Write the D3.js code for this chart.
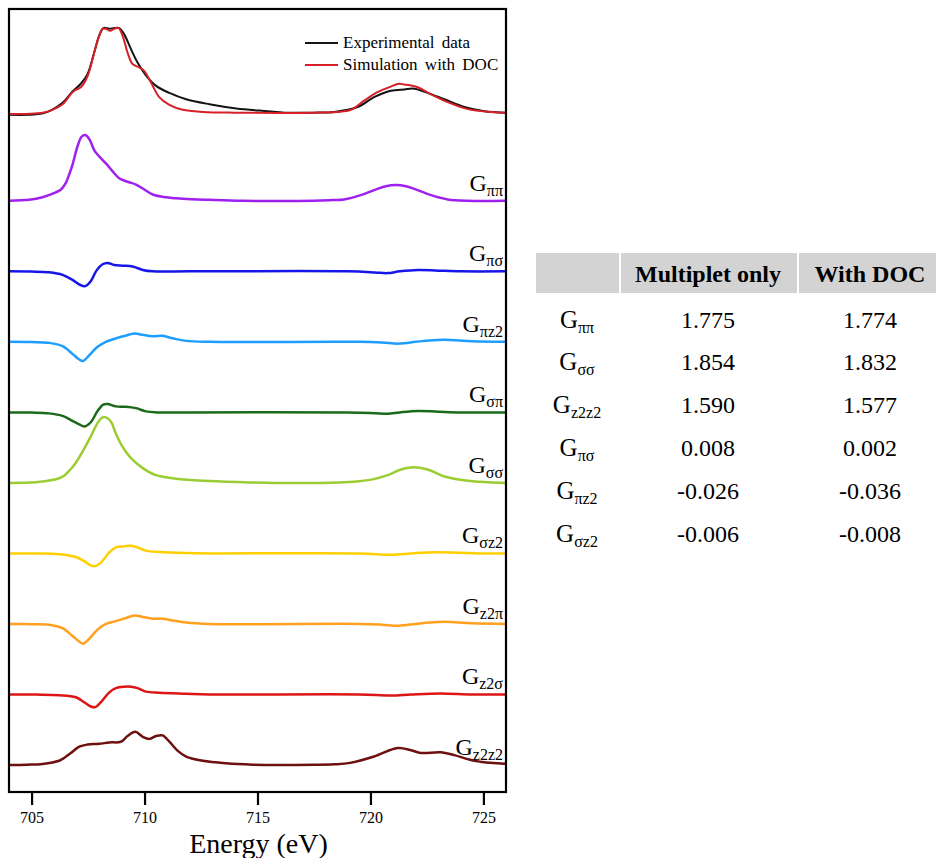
<!DOCTYPE html>
<html>
<head>
<meta charset="utf-8">
<script src="https://cdn.jsdelivr.net/npm/d3@7"></script>
<style>
  html, body { margin: 0; padding: 0; background: #fff; }
  svg { display: block; font-family: "Liberation Serif", "Times New Roman", serif; }
</style>
</head>
<body>
<svg id="chart" width="936" height="858" font-family="Liberation Serif, Times New Roman, serif"></svg>
<script>
// ---- Spectra: [energy (eV), intensity above the curve's own baseline] ----
const experimental = [[704.0,-0.03],[704.9,-0.03],[705.5,-0.01],[705.9,0.04],[706.37,0.14],[706.81,0.30],[707.18,0.41],[707.48,0.55],[707.77,0.85],[707.99,1.09],[708.18,1.20],[708.44,1.19],[708.66,1.20],[708.88,1.20],[709.10,1.11],[709.4,0.90],[709.69,0.71],[710.06,0.53],[710.51,0.38],[711.1,0.28],[711.84,0.19],[712.87,0.12],[714.06,0.06],[715.46,0.02],[716.2,0.0],[717.5,0.0],[718.4,0.01],[719.43,0.08],[720.16,0.22],[720.9,0.31],[721.5,0.33],[721.94,0.34],[722.53,0.28],[723.27,0.19],[724.16,0.08],[725.04,0.02],[726.0,0.0]];
const simulation = [[704.0,-0.02],[705.5,0.0],[705.92,0.04],[706.37,0.12],[706.81,0.29],[707.0,0.33],[707.18,0.36],[707.48,0.52],[707.77,0.85],[707.99,1.09],[708.14,1.19],[708.29,1.19],[708.48,1.16],[708.66,1.19],[708.85,1.20],[709.03,1.09],[709.25,0.85],[709.47,0.69],[709.77,0.64],[709.99,0.59],[710.28,0.43],[710.65,0.22],[711.1,0.11],[711.69,0.04],[712.58,0.01],[714.0,0.0],[717.5,0.0],[718.5,0.01],[719.13,0.04],[719.72,0.17],[720.31,0.29],[720.9,0.37],[721.26,0.41],[721.49,0.40],[722.09,0.36],[722.68,0.26],[723.42,0.15],[724.31,0.05],[725.34,0.01],[726.0,0.0]];
const gPiPi = [[704.0,0.0],[704.89,0.014],[705.48,0.05],[706.07,0.12],[706.29,0.156],[706.51,0.25],[706.66,0.37],[706.81,0.51],[707.03,0.77],[707.22,0.91],[707.40,0.93],[707.58,0.86],[707.77,0.72],[707.99,0.63],[708.29,0.53],[708.58,0.42],[708.88,0.32],[709.25,0.27],[709.62,0.23],[709.99,0.16],[710.36,0.09],[710.95,0.05],[711.69,0.03],[712.87,0.014],[714.35,0.0],[717.5,0.0],[718.3,0.01],[718.83,0.02],[719.57,0.08],[720.31,0.17],[720.9,0.22],[721.35,0.22],[721.94,0.17],[722.68,0.08],[723.42,0.02],[724.31,0.0],[726.0,0.0]];
const gPiSigma = [[704.0,0.0],[705.0,-0.003],[705.77,-0.014],[706.37,-0.05],[706.81,-0.12],[707.14,-0.19],[707.37,-0.21],[707.62,-0.14],[707.87,0.01],[708.14,0.10],[708.36,0.12],[708.66,0.09],[709.03,0.08],[709.47,0.07],[709.92,0.02],[710.36,0.0],[712.0,0.0],[719.0,0.0],[720.2,-0.015],[720.76,-0.025],[721.3,0.0],[722.09,0.02],[723.0,0.01],[724.0,0.0],[726.0,0.0]];
const gPiZ2 = [[704.0,0.0],[705.0,-0.003],[705.77,-0.014],[706.37,-0.06],[706.81,-0.17],[707.11,-0.25],[707.28,-0.27],[707.55,-0.19],[707.92,-0.07],[708.29,0.0],[708.73,0.05],[709.18,0.09],[709.55,0.12],[709.92,0.10],[710.36,0.08],[710.80,0.085],[711.25,0.05],[711.84,0.014],[712.87,0.0],[719.5,0.0],[720.5,-0.01],[721.27,-0.025],[722.0,0.0],[722.6,0.02],[723.27,0.03],[724.5,0.01],[726.0,0.0]];
const gSigmaPi = [[704.0,0.0],[705.0,-0.003],[705.77,-0.014],[706.37,-0.05],[706.81,-0.12],[707.11,-0.17],[707.34,-0.20],[707.62,-0.14],[707.92,0.02],[708.17,0.11],[708.36,0.12],[708.73,0.085],[709.18,0.08],[709.62,0.06],[710.06,0.014],[710.51,0.0],[712.0,0.0],[719.0,0.0],[720.2,-0.012],[720.76,-0.02],[721.3,0.0],[722.09,0.02],[723.0,0.01],[724.0,0.0],[726.0,0.0]];
const gSigmaSigma = [[704.0,0.0],[705.18,0.01],[705.92,0.04],[706.22,0.066],[706.44,0.10],[706.66,0.17],[706.88,0.25],[707.25,0.44],[707.62,0.66],[707.92,0.85],[708.14,0.93],[708.29,0.93],[708.51,0.87],[708.73,0.70],[709.03,0.51],[709.40,0.35],[709.92,0.21],[710.51,0.11],[711.39,0.06],[712.58,0.03],[714.35,0.01],[715.8,0.0],[717.5,0.0],[718.6,0.005],[719.4,0.02],[720.1,0.05],[720.76,0.11],[721.35,0.19],[721.8,0.22],[722.53,0.19],[723.27,0.09],[724.31,0.03],[725.2,0.01],[726.0,0.0]];
const gSigmaZ2 = [[704.0,0.0],[705.2,-0.002],[706.22,-0.01],[706.96,-0.05],[707.33,-0.11],[707.62,-0.17],[707.82,-0.18],[708.07,-0.13],[708.44,0.014],[708.73,0.085],[709.10,0.10],[709.40,0.11],[709.69,0.085],[710.06,0.04],[710.65,0.02],[711.84,0.005],[712.87,0.0],[719.5,0.0],[720.9,-0.02],[721.8,0.0],[722.5,0.014],[723.6,0.014],[725.0,0.0],[726.0,0.0]];
const gZ2Pi = [[704.0,0.0],[705.0,-0.003],[705.77,-0.01],[706.37,-0.06],[706.81,-0.17],[707.11,-0.25],[707.28,-0.28],[707.55,-0.21],[707.92,-0.08],[708.29,0.0],[708.73,0.04],[709.18,0.085],[709.55,0.12],[709.92,0.10],[710.36,0.075],[710.80,0.075],[711.25,0.05],[711.84,0.02],[712.87,0.0],[719.5,0.0],[720.5,-0.01],[721.27,-0.024],[722.0,0.0],[722.6,0.02],[723.27,0.03],[724.5,0.01],[726.0,0.0]];
const gZ2Sigma = [[704.0,0.0],[705.2,-0.002],[706.22,-0.01],[706.96,-0.04],[707.33,-0.11],[707.62,-0.17],[707.82,-0.18],[708.07,-0.11],[708.44,0.03],[708.73,0.09],[709.10,0.11],[709.40,0.11],[709.69,0.09],[710.06,0.04],[710.65,0.024],[711.84,0.01],[712.87,0.0],[719.5,0.0],[720.9,-0.015],[721.8,0.0],[723.1,0.015],[724.5,0.0],[726.0,0.0]];
const gZ2Z2 = [[704.0,0.0],[704.8,0.004],[705.48,0.014],[706.22,0.06],[706.44,0.10],[706.74,0.17],[707.11,0.26],[707.48,0.29],[707.99,0.30],[708.44,0.32],[708.95,0.33],[709.25,0.41],[709.59,0.47],[709.92,0.40],[710.21,0.37],[710.51,0.41],[710.80,0.42],[711.10,0.33],[711.47,0.20],[711.84,0.12],[712.58,0.06],[713.61,0.024],[714.8,0.005],[716.0,0.0],[717.5,0.003],[718.4,0.01],[719.1,0.03],[720.16,0.12],[721.2,0.24],[721.8,0.21],[722.23,0.17],[723.12,0.18],[723.71,0.14],[724.6,0.06],[725.78,0.02],[726.0,0.02]];

// ---- Stacking order, colours and labels ----
const seriesNames = ["experimental","simulation","gPiPi","gPiSigma","gPiZ2","gSigmaPi","gSigmaSigma","gSigmaZ2","gZ2Pi","gZ2Sigma","gZ2Z2"];
const seriesData = [experimental, simulation, gPiPi, gPiSigma, gPiZ2, gSigmaPi, gSigmaSigma, gSigmaZ2, gZ2Pi, gZ2Sigma, gZ2Z2];
const seriesOffsets = [9.25, 9.25, 8, 7, 6, 5, 4, 3, 2, 1, 0];
const seriesColors = ["#141414","#d61f26","#a020f0","#1616e8","#1e9eff","#1b6a1b","#9acd32","#ffcf00","#ffa11e","#dc1616","#6e1010"];
const seriesWidths = [2, 2, 2.5, 2.5, 2.5, 2.5, 2.5, 2.5, 2.5, 2.5, 2.5];
const subscripts = [null, null, "ππ","πσ","πz2","σπ","σσ","σz2","z2π","z2σ","z2z2"];

const legendLabels = ["Experimental data", "Simulation with DOC"];
const energyTicks = [705, 710, 715, 720, 725];

// ---- Table of fitted G values ----
const tableHeaders = ["", "Multiplet only", "With DOC"];
const tableRows = ["ππ","σσ","z2z2","πσ","πz2","σz2"];
const multipletOnly = ["1.775","1.854","1.590","0.008","-0.026","-0.006"];
const withDOC = ["1.774","1.832","1.577","0.002","-0.036","-0.008"];

const serif = "\"Liberation Serif\", \"Times New Roman\", serif";
const svg = d3.select("#chart");
const plot = { left: 9, right: 506, top: 9, bottom: 792 };

const x = d3.scaleLinear().domain([704, 726]).range([plot.left, plot.right]);
const y = d3.scaleLinear().domain([-0.383, 10.72]).range([plot.bottom, plot.top]);

svg.append("defs").append("clipPath").attr("id", "plotClip")
  .append("rect").attr("x", plot.left).attr("y", plot.top)
  .attr("width", plot.right - plot.left).attr("height", plot.bottom - plot.top);

const gCurves = svg.append("g").attr("clip-path", "url(#plotClip)");

seriesData.forEach((data, i) => {
  const off = seriesOffsets[i];
  const line = d3.line()
    .x(d => x(d[0]))
    .y(d => y(off + d[1]))
    .curve(d3.curveCatmullRom.alpha(0.5));
  gCurves.append("path")
    .datum(data)
    .attr("fill", "none")
    .attr("stroke", seriesColors[i])
    .attr("stroke-width", seriesWidths[i])
    .attr("stroke-linejoin", "round")
    .attr("d", line);
});

// Component labels: G with subscript, right aligned above each baseline
seriesData.forEach((data, i) => {
  if (!subscripts[i]) return;
  const t = svg.append("text")
    .attr("x", 503)
    .attr("y", y(seriesOffsets[i]) - 10)
    .attr("text-anchor", "end")
    .attr("font-family", serif)
    .attr("fill", "#000");
  t.append("tspan").attr("font-size", 24).text("G");
  t.append("tspan").attr("font-size", 16).attr("dy", 5).text(subscripts[i]);
});

// Legend
const legend = svg.append("g");
legendLabels.forEach((lab, i) => {
  const ly = 43 + i * 22;
  legend.append("line")
    .attr("x1", 305).attr("x2", 338).attr("y1", ly).attr("y2", ly)
    .attr("stroke", seriesColors[i]).attr("stroke-width", 2);
  legend.append("text")
    .attr("x", 343).attr("y", ly + 5)
    .attr("font-family", serif)
    .attr("font-size", 17).attr("word-spacing", 3)
    .text(lab);
});

// Frame
svg.append("rect")
  .attr("x", plot.left).attr("y", plot.top)
  .attr("width", plot.right - plot.left).attr("height", plot.bottom - plot.top)
  .attr("fill", "none").attr("stroke", "#000").attr("stroke-width", 2.2);

// Energy axis
const xAxis = svg.append("g")
  .attr("transform", `translate(0,${plot.bottom})`)
  .call(d3.axisBottom(x).tickValues(energyTicks).tickSize(13).tickPadding(7).tickFormat(d3.format("d")));
xAxis.select(".domain").remove();
xAxis.selectAll(".tick line").attr("stroke", "#000").attr("stroke-width", 2.2);
xAxis.selectAll(".tick text")
  .attr("font-family", serif)
  .attr("font-size", 16).attr("fill", "#000");

svg.append("text")
  .attr("x", (x(704) + x(726)) / 2 + 1)
  .attr("y", 853)
  .attr("text-anchor", "middle")
  .attr("font-family", serif)
  .attr("font-size", 28)
  .text("Energy (eV)");

// Table
const colX = [536, 621, 799, 936];
const colCenters = [577, 708, 870];
const tbl = svg.append("g").attr("font-family", serif);
for (let c = 0; c < 3; c++) {
  tbl.append("rect")
    .attr("x", colX[c]).attr("y", 253)
    .attr("width", (c < 2 ? colX[c + 1] - 2 : colX[c + 1]) - colX[c])
    .attr("height", 40)
    .attr("fill", "#d3d3d3");
  if (tableHeaders[c]) {
    tbl.append("text")
      .attr("x", colCenters[c]).attr("y", 282)
      .attr("text-anchor", "middle")
      .attr("font-size", 24).attr("font-weight", "bold")
      .text(tableHeaders[c]);
  }
}
tableRows.forEach((sub, r) => {
  const ry = 327.5 + r * 42.8;
  const t = tbl.append("text")
    .attr("x", colCenters[0]).attr("y", ry)
    .attr("text-anchor", "middle");
  t.append("tspan").attr("font-size", 25).text("G");
  t.append("tspan").attr("font-size", 16).attr("dy", 5).text(sub);
  tbl.append("text").attr("x", colCenters[1]).attr("y", ry)
    .attr("text-anchor", "middle").attr("font-size", 24).text(multipletOnly[r]);
  tbl.append("text").attr("x", colCenters[2]).attr("y", ry)
    .attr("text-anchor", "middle").attr("font-size", 24).text(withDOC[r]);
});
</script>
</body>
</html>
